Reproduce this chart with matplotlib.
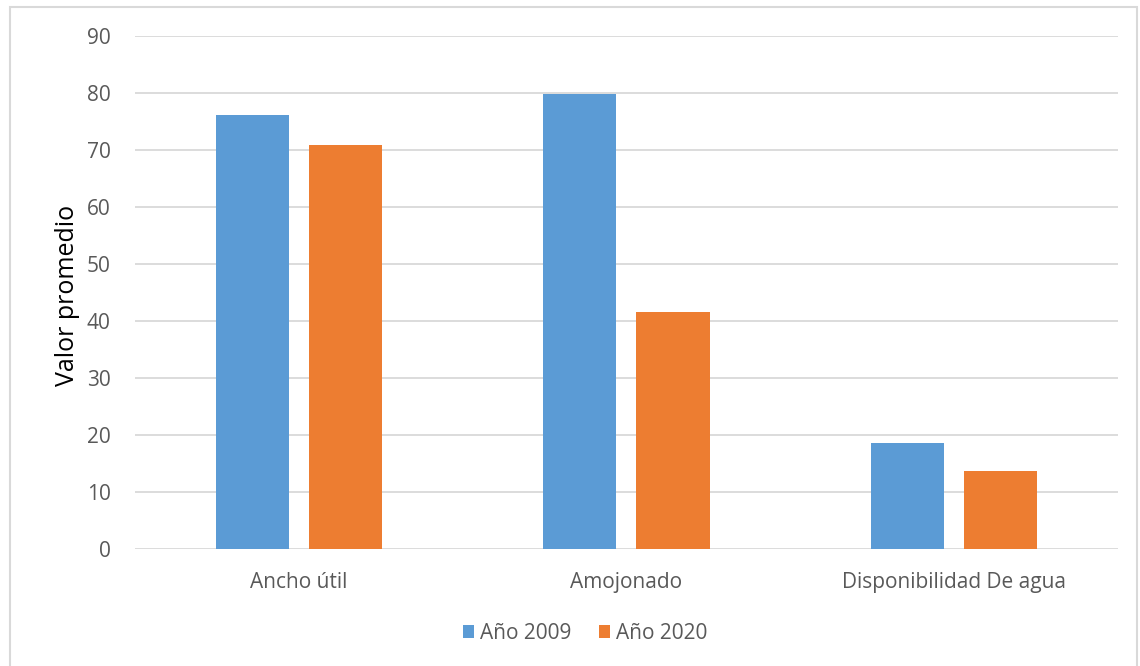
import numpy as np
import matplotlib.pyplot as plt
from matplotlib.patches import Rectangle

categories = ["Ancho útil", "Amojonado", "Disponibilidad De agua"]
series_names = ["Año 2009", "Año 2020"]
values_2009 = [76.2, 79.8, 18.6]
values_2020 = [70.8, 41.5, 13.7]
colors = ["#5B9BD5", "#ED7D31"]

plt.rcParams['font.family'] = ['Open Sans', 'DejaVu Sans']

fig = plt.figure(figsize=(11.4, 6.66), dpi=100)
ax = fig.add_axes([0.1184, 0.1757, 0.8623, 0.7702])

x = np.arange(len(categories))
w = 0.223
ax.bar(x - 0.142, values_2009, w, color=colors[0], label=series_names[0], zorder=3)
ax.bar(x + 0.142, values_2020, w, color=colors[1], label=series_names[1], zorder=3)

ax.set_xlim(-0.5, 2.5)
ax.set_ylim(0, 90)
ax.set_yticks(range(0, 91, 10))
ax.set_xticks(x)
ax.set_xticklabels(categories)
ax.grid(axis='y', color='#D9D9D9', linewidth=1.3, zorder=0)
for s in ax.spines.values():
    s.set_visible(False)
ax.tick_params(length=0, labelsize=15, labelcolor='#595959')
ax.tick_params(axis='y', pad=17.5)
ax.tick_params(axis='x', pad=16.5)
ax.set_ylabel("Valor promedio", fontsize=18)
ax.yaxis.set_label_coords(-0.056, 0.495)

ax.legend(loc='center', bbox_to_anchor=(0.458, -0.165), ncol=2, frameon=False,
          fontsize=15, labelcolor='#595959', handlelength=0.55, handleheight=0.55,
          handletextpad=0.3, columnspacing=1.3)

fig.patches.append(Rectangle((0.009, -0.05), 0.988, 1.04, transform=fig.transFigure,
                             fill=False, edgecolor='#D9D9D9', linewidth=1.5))

fig.savefig("out.png", dpi=100)
